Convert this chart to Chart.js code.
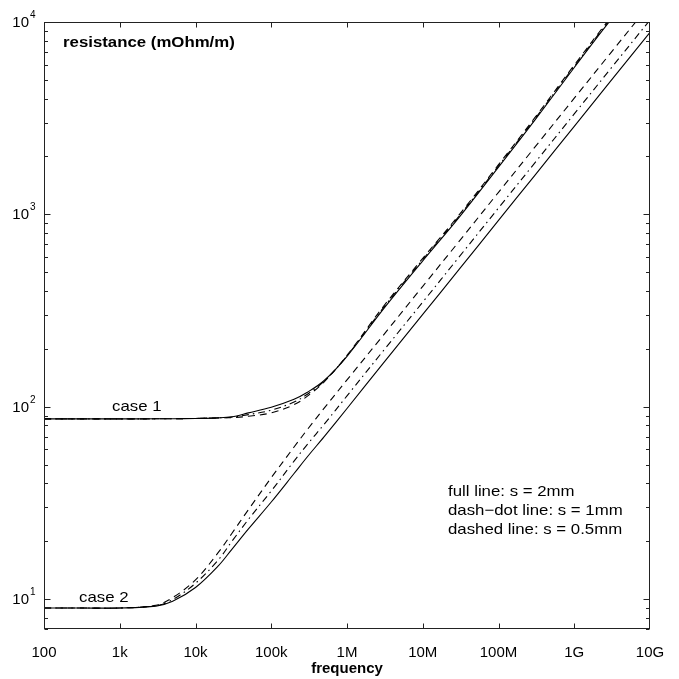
<!DOCTYPE html>
<html>
<head>
<meta charset="utf-8">
<script src="https://cdn.jsdelivr.net/npm/chart.js@4.4.1/dist/chart.umd.min.js"></script>
<style>
    html, body { margin: 0; padding: 0; background: #fff; }
    #wrap { width: 679px; height: 679px; }
</style>
</head>
<body>
<div id="wrap"><canvas id="chart"></canvas></div>
<script>
// frequency points (Hz)
const frequencies = [100, 300, 1e3, 3e3, 5e3, 1e4, 2e4, 3e4, 5e4, 1e5, 2e5, 3e5, 5e5,
    1e6, 3e6, 1e7, 3e7, 1e8, 3e8, 1e9, 3e9, 1e10];

// case 1 resistance (mOhm/m)
const case1Full    = [86.5, 86.5, 86.5, 86.6, 86.7, 87.0, 87.6, 88.7, 93.0, 99.5, 109.5, 119, 137,
    183, 321, 574, 962, 1760, 3080, 5800, 10200, 18100];
const case1DashDot = [86.5, 86.5, 86.5, 86.6, 86.7, 87.0, 87.6, 88.3, 91.1, 96.0, 105.9, 116.3, 135.9,
    184, 326, 583, 976, 1786, 3126, 5887, 10350, 18370];
const case1Dashed  = [86.5, 86.5, 86.5, 86.6, 86.7, 87.0, 87.6, 87.8, 89.3, 93.0, 102.6, 113.6, 134.9,
    185, 331, 591, 991, 1813, 3172, 5974, 10500, 18640];

// case 2 resistance (mOhm/m)
const case2Full    = [9.0, 9.0, 9.0, 9.2, 9.75, 11.5, 14.9, 18.1, 23.2, 32.0, 45.0, 55.0, 70.0,
    98, 168, 302, 516, 931, 1592, 2870, 4910, 8830];
const case2DashDot = [9.0, 9.0, 9.0, 9.25, 9.95, 12.1, 16.0, 19.9, 26.0, 36.5, 52.2, 63.8, 81.2,
    114, 195, 350, 599, 1080, 1847, 3329, 5696, 10243];
const case2Dashed  = [9.0, 9.0, 9.0, 9.3, 10.2, 12.6, 17.5, 21.9, 29.2, 42.8, 61.8, 76.2, 98.4,
    138, 235, 423, 722, 1303, 2229, 4018, 6874, 12360];

// axes
const xTicks = [100, 1e3, 1e4, 1e5, 1e6, 1e7, 1e8, 1e9, 1e10];
const xTickLabels = ['100', '1k', '10k', '100k', '1M', '10M', '100M', '1G', '10G'];
const yMin = 7, yMax = 1e4;
const yTicks = [10, 100, 1000, 10000];
const yTickExponents = ['1', '2', '3', '4'];

const legendLines = ['full line: s = 2mm', 'dash\u2212dot line: s = 1mm', 'dashed line: s = 0.5mm'];

const FONT = '"Liberation Sans", Arial, Helvetica, sans-serif';
const DASHED = [7, 5];
const DASHDOT = [7, 4, 1.5, 4];

function series(values, dash) {
    return {
        data: frequencies.map((f, i) => ({ x: f, y: values[i] })),
        borderColor: '#000',
        borderWidth: 1.1,
        borderDash: dash,
        pointRadius: 0,
        fill: false,
        tension: 0.35
    };
}

// stretched text, like the reference
function text(ctx, str, x, y, bold) {
    ctx.save();
    ctx.font = (bold ? 'bold ' : '') + '15px ' + FONT;
    ctx.textAlign = 'left';
    ctx.textBaseline = 'alphabetic';
    ctx.translate(x, y);
    ctx.scale(1.12, 1);
    ctx.fillText(str, 0, 0);
    ctx.restore();
}

const framePlugin = {
    id: 'frame',
    afterDraw(chart) {
        const { ctx, chartArea: a, scales: { x, y } } = chart;
        ctx.save();
        ctx.strokeStyle = '#222';
        ctx.lineWidth = 1;
        const L = Math.round(a.left) + 0.5, R = Math.round(a.right) - 0.5;
        const T = Math.round(a.top) + 0.5, B = Math.round(a.bottom) - 0.5;
        ctx.strokeRect(L, T, R - L, B - T);

        ctx.beginPath();
        // x ticks top and bottom
        xTicks.slice(1, -1).forEach(v => {
            const px = Math.round(x.getPixelForValue(v)) + 0.5;
            ctx.moveTo(px, B); ctx.lineTo(px, B - 5);
            ctx.moveTo(px, T); ctx.lineTo(px, T + 5);
        });
        // y ticks, major and minor, both sides
        for (let d = 1; d <= 1000; d *= 10) {
            for (let m = 1; m <= 9; m++) {
                const v = d * m;
                if (v < yMin || v > yMax) continue;
                const py = Math.round(y.getPixelForValue(v)) + 0.5;
                const len = m === 1 ? 6 : 3.5;
                ctx.moveTo(L, py); ctx.lineTo(L + len, py);
                ctx.moveTo(R, py); ctx.lineTo(R - len, py);
            }
        }
        ctx.stroke();

        // y tick labels 10^n
        ctx.fillStyle = '#000';
        yTicks.forEach((v, i) => {
            const py = y.getPixelForValue(v);
            ctx.font = '15px ' + FONT;
            ctx.textAlign = 'right';
            ctx.textBaseline = 'alphabetic';
            ctx.fillText('10', 29, py + 5);
            ctx.font = '10px ' + FONT;
            ctx.textAlign = 'left';
            ctx.fillText(yTickExponents[i], 30, py - 4);
        });

        // annotations
        text(ctx, 'resistance (mOhm/m)', 63, 47, true);
        text(ctx, 'case 1', 112, 411, false);
        text(ctx, 'case 2', 79, 601.5, false);
        legendLines.forEach((s, i) => text(ctx, s, 448, 496 + i * 19, false));
        ctx.restore();
    }
};

new Chart(document.getElementById('chart'), {
    type: 'line',
    data: {
        datasets: [
            series(case1Full, []),
            series(case1DashDot, DASHDOT),
            series(case1Dashed, DASHED),
            series(case2Full, []),
            series(case2DashDot, DASHDOT),
            series(case2Dashed, DASHED)
        ]
    },
    options: {
        responsive: true,
        maintainAspectRatio: false,
        animation: false,
        devicePixelRatio: 1,
        layout: { padding: { left: 0, right: 29, top: 22, bottom: 0 } },
        plugins: { legend: { display: false }, tooltip: { enabled: false } },
        scales: {
            x: {
                type: 'logarithmic',
                min: 100,
                max: 1e10,
                grid: { display: false },
                border: { display: false },
                afterBuildTicks: s => { s.ticks = xTicks.map(v => ({ value: v })); },
                afterFit: s => { s.height = 50; },
                ticks: {
                    autoSkip: false,
                    maxRotation: 0,
                    padding: 7,
                    color: '#000',
                    font: { family: FONT, size: 15 },
                    callback: v => {
                        const i = xTicks.indexOf(v);
                        return i >= 0 ? xTickLabels[i] : '';
                    }
                },
                title: {
                    display: true,
                    text: 'frequency',
                    color: '#000',
                    font: { family: FONT, size: 15, weight: 'bold' },
                    padding: { top: 2, bottom: 1 }
                }
            },
            y: {
                type: 'logarithmic',
                min: yMin,
                max: yMax,
                grid: { display: false },
                border: { display: false },
                ticks: { display: false },
                afterFit: s => { s.width = 44; }
            }
        }
    },
    plugins: [framePlugin]
});
</script>
</body>
</html>
